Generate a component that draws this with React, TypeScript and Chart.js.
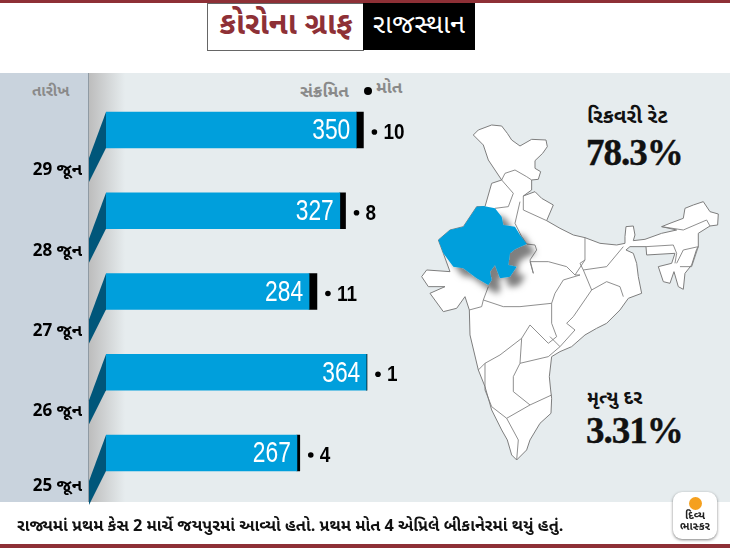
import React, { useEffect, useRef } from "react";
import { Chart, registerables } from "chart.js";

Chart.register(...registerables);

const dates = ["29 જૂન", "28 જૂન", "27 જૂન", "26 જૂન", "25 જૂન"];
const infected = [350, 327, 284, 364, 267];
const deaths = [10, 8, 11, 1, 4];

const titleLeft = "કોરોના ગ્રાફ";
const titleRight = "રાજસ્થાન";
const headDate = "તારીખ";
const headInfected = "સંક્રમિત";
const headDeaths = "મોત";
const recoveryLabel = "રિકવરી રેટ";
const recoveryValue = "78.3%";
const deathRateLabel = "મૃત્યુ દર";
const deathRateValue = "3.31%";
const footnote = "રાજ્યમાં પ્રથમ કેસ 2 માર્ચે જયપુરમાં આવ્યો હતો. પ્રથમ મોત 4 એપ્રિલે બીકાનેરમાં થયું હતું.";

const GU = '"Noto Sans Gujarati", "Noto Sans", "Liberation Sans", sans-serif';
const SANS = '"Liberation Sans", sans-serif';

function narrowText(ctx: any, text: string, x: number, y: number, squeeze: number) {
  ctx.save();
  ctx.translate(x, y);
  ctx.scale(squeeze, 1);
  ctx.fillText(text, 0, 0);
  ctx.restore();
}

const barAnnotations = {
  id: "barAnnotations",
  beforeDatasetsDraw(chart: any) {
    const { ctx } = chart;
    const meta = chart.getDatasetMeta(0);
    ctx.save();
    ctx.fillStyle = "#00567a";
    meta.data.forEach((bar: any) => {
      const h = bar.height;
      const top = bar.y - h / 2;
      const bottom = bar.y + h / 2;
      ctx.beginPath();
      ctx.moveTo(bar.base, top);
      ctx.lineTo(bar.base, bottom);
      ctx.lineTo(89, bottom + 34);
      ctx.lineTo(89, bottom + 10);
      ctx.closePath();
      ctx.fill();
    });
    ctx.restore();
  },
  afterDatasetsDraw(chart: any) {
    const { ctx } = chart;
    const m0 = chart.getDatasetMeta(0);
    const m1 = chart.getDatasetMeta(1);
    const dateShift = [42, 42, 41, 41, 35];
    ctx.save();
    ctx.textBaseline = "middle";
    m0.data.forEach((bar: any, i: number) => {
      ctx.fillStyle = "#ffffff";
      ctx.textAlign = "right";
      ctx.font = `30px ${SANS}`;
      narrowText(ctx, String(infected[i]), bar.x - 6, bar.y + 1, 0.76);

      const end = m1.data[i].x;
      ctx.fillStyle = "#000000";
      ctx.beginPath();
      ctx.arc(end + 11, bar.y + 2, 2.8, 0, Math.PI * 2);
      ctx.fill();
      ctx.textAlign = "left";
      ctx.font = `bold 22px ${SANS}`;
      narrowText(ctx, String(deaths[i]), end + 20, bar.y + 3, 0.86);

      ctx.textAlign = "right";
      ctx.font = `bold 17px ${GU}`;
      ctx.fillText(dates[i], 82, bar.y + dateShift[i]);
    });
    ctx.restore();
  },
};

const outline =
  "160,135 175,120 215,105 245,108 262,130 275,150 300,168 335,148 378,150 382,170 368,190 345,212 345,235 362,245 355,268 335,270 335,300 310,318 345,305 365,325 400,345 380,392 420,415 460,435 495,443 540,460 590,465 615,460 615,440 618,410 640,408 645,435 640,452 675,448 725,430 770,420 725,410 750,400 790,385 795,355 820,345 850,335 870,365 895,372 893,405 870,408 835,430 835,470 830,478 815,525 795,550 790,598 775,590 762,545 750,580 730,575 715,530 755,520 765,490 680,495 678,470 630,470 618,480 640,490 650,520 655,560 665,610 625,625 600,660 560,700 530,715 495,735 455,770 420,785 395,800 388,860 392,900 395,925 393,970 360,1000 330,1050 320,1080 290,1110 275,1095 262,1050 245,1020 215,960 195,890 175,840 150,735 148,660 135,620 110,655 70,665 30,610 75,590 25,590 5,560 20,540 90,545 70,490 55,450 90,420 130,410 170,350 195,350 215,280 245,270 205,210 190,165";
const rajasthan =
  "190,348 225,355 245,380 250,405 285,410 300,435 320,462 285,478 270,490 265,525 290,530 270,560 240,565 225,525 210,545 215,570 205,585 170,565 130,535 100,530 70,490 55,450 90,420 130,410 170,350";
const borders = [
  "245,270 255,250 285,240 320,260 335,270",
  "245,270 280,310 265,350 225,355",
  "300,335 285,400 305,440 320,462 345,465 350,480 330,510 340,550 330,515 385,515 440,530 465,555 495,510 495,443",
  "310,318 310,360 380,392",
  "205,590 190,630 250,650 300,650 395,640 405,610 430,570 480,555 465,555",
  "148,660 185,650 190,630",
  "395,640 395,700 410,740 385,760 330,705 305,745 240,795 195,820 175,840",
  "495,510 480,520 490,540 560,530 610,470",
  "490,540 515,600 560,575 600,590 610,620",
  "515,600 460,680 440,700 465,720 420,770 390,740",
  "305,745 300,820 385,800 420,770",
  "195,820 195,900 215,950 260,985 330,945 280,905 280,860 300,820",
  "330,945 395,915",
  "260,985 295,1050 290,1110",
  "725,410 790,420 860,390 870,408",
  "678,470 760,465 770,490 765,520",
  "780,530 815,530 835,470 790,480 770,520",
];

function IndiaMap() {
  return (
    <svg width={730} height={548} style={{ position: "absolute", left: 0, top: 0 }}>
      <defs>
        <filter id="rj" x="-30%" y="-30%" width="180%" height="180%">
          <feDropShadow dx="27" dy="27" stdDeviation="10" floodColor="#000" floodOpacity="0.5" />
        </filter>
      </defs>
      <g transform="translate(420,90) scale(0.3333)">
        <polygon points={outline} fill="#fff" stroke="#7d7d7d" strokeWidth={3} strokeLinejoin="round" />
        {borders.map((b, i) => (
          <polyline key={i} points={b} fill="none" stroke="#7d7d7d" strokeWidth={2.6} strokeLinejoin="round" />
        ))}
        <polygon points={rajasthan} fill="#009fdc" filter="url(#rj)" />
      </g>
    </svg>
  );
}

const abs = (o: React.CSSProperties): React.CSSProperties => ({ position: "absolute", whiteSpace: "nowrap", ...o });

export default function App() {
  const ref = useRef<HTMLCanvasElement>(null);
  useEffect(() => {
    const chart = new Chart(ref.current!, {
      type: "bar",
      data: {
        labels: dates,
        datasets: [
          { label: "સંક્રમિત", data: infected, backgroundColor: "#009fdc", barThickness: 36, stack: "a" },
          { label: "મોત", data: deaths, backgroundColor: "#000000", barThickness: 36, stack: "a" },
        ],
      },
      options: {
        indexAxis: "y",
        animation: false,
        responsive: false,
        layout: { padding: { left: 106, top: 89.6, bottom: 54.6, right: 338 } },
        plugins: { legend: { display: false }, tooltip: { enabled: false } },
        scales: {
          x: { stacked: true, display: false, min: 0, max: 400 },
          y: { stacked: true, display: false },
        },
      },
      plugins: [barAnnotations],
    } as any);
    return () => chart.destroy();
  }, []);

  const bigNum: React.CSSProperties = { fontSize: 37, fontWeight: 700, color: "#111", fontFamily: '"Liberation Serif", serif', letterSpacing: -1, WebkitTextStroke: "0.4px #111" };

  return (
    <div style={{ position: "fixed", left: 0, top: 0, width: 730, height: 548, background: "#fff", overflow: "hidden", fontFamily: GU }}>
      <div style={abs({ left: 0, top: 0, width: 730, height: 3, background: "#8e3036" })} />
      <div style={abs({ left: 207, top: 3, width: 156, height: 46, border: "1px solid #666", borderRight: "none", background: "#fff", color: "#8e3036", fontSize: 31, fontWeight: 700, lineHeight: "46px", textAlign: "center" })}>{titleLeft}</div>
      <div style={abs({ left: 363, top: 3, width: 112, height: 47, background: "#000", color: "#fff", fontSize: 27, fontWeight: 400, lineHeight: "47px", textAlign: "center" })}>{titleRight}</div>

      <div style={abs({ left: 0, top: 73, width: 730, height: 429, background: "#e6ecee" })} />
      <div style={abs({ left: 0, top: 73, width: 89, height: 429, background: "#c9d3dd", borderRight: "1px solid #8f9aa3", boxSizing: "border-box" })} />
      <div style={abs({ left: 89, top: 73, width: 36, height: 429, background: "linear-gradient(90deg,#bdbdbd,#e6ecee)" })} />

      <div style={abs({ left: 32, top: 83, fontSize: 15, fontWeight: 700, color: "#8a8a8a" })}>{headDate}</div>
      <div style={abs({ left: 300, top: 82, fontSize: 17, fontWeight: 700, color: "#8a8a8a" })}>{headInfected}</div>
      <div style={abs({ left: 364, top: 87, width: 8, height: 8, borderRadius: 4, background: "#000" })} />
      <div style={abs({ left: 376, top: 78, fontSize: 17, fontWeight: 700, color: "#8a8a8a" })}>{headDeaths}</div>

      <IndiaMap />

      <div style={abs({ left: 587, top: 105, fontSize: 20.5, fontWeight: 700, color: "#111" })}>{recoveryLabel}</div>
      <div style={abs({ left: 586, top: 131, ...bigNum })}>{recoveryValue}</div>
      <div style={abs({ left: 587, top: 387, fontSize: 19, fontWeight: 700, color: "#111" })}>{deathRateLabel}</div>
      <div style={abs({ left: 586, top: 409, ...bigNum })}>{deathRateValue}</div>

      <canvas ref={ref} width={730} height={548} style={{ position: "absolute", left: 0, top: 0, width: 730, height: 548 }} />

      <div style={abs({ left: 17, top: 516, fontSize: 16.3, fontWeight: 700, color: "#111" })}>{footnote}</div>
      <div style={abs({ left: 0, top: 544, width: 730, height: 4, background: "#8e3036" })} />

      <div style={abs({ left: 673, top: 492, width: 44, height: 47, background: "#fff", borderRadius: 9, boxShadow: "0 1px 3px rgba(0,0,0,.5)", textAlign: "center" })}>
        <div style={{ width: 13, height: 13, borderRadius: 7, background: "#f5a01e", margin: "5px auto 1px" }} />
        <div style={{ fontSize: 11, lineHeight: "11px", fontWeight: 700, color: "#222" }}>દિવ્ય</div>
        <div style={{ fontSize: 11, lineHeight: "11px", fontWeight: 700, color: "#222" }}>ભાસ્કર</div>
      </div>
    </div>
  );
}
